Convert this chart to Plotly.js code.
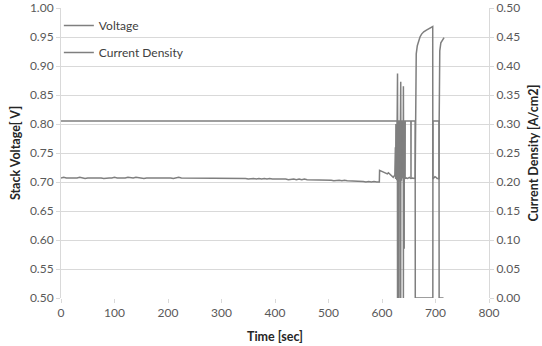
<!DOCTYPE html>
<html>
<head>
<meta charset="utf-8">
<script src="https://cdn.plot.ly/plotly-3.0.1.min.js"></script>
<style>html,body{margin:0;padding:0;background:#fff;}#chart{width:542px;height:346px;}</style>
</head>
<body>
<div id="chart"></div>
<script>
// Stack voltage, 0-595 s, sampled every 5 s
const voltEarlyStep = 5;
const voltEarly = [
  0.707,0.708,0.707,0.707,0.706,0.707,0.707,0.708,0.707,0.706,0.707,0.707,0.707,0.708,0.707,0.707,0.706,0.707,0.707,0.707,
  0.708,0.707,0.707,0.706,0.707,0.708,0.707,0.707,0.708,0.707,0.707,0.706,0.707,0.707,0.707,0.708,0.707,0.707,0.708,0.707,
  0.707,0.707,0.706,0.707,0.708,0.707,0.707,0.706,0.707,0.707,0.706,0.707,0.707,0.707,0.707,0.706,0.707,0.706,0.707,0.706,
  0.706,0.707,0.706,0.706,0.707,0.706,0.707,0.706,0.706,0.706,0.705,0.706,0.706,0.705,0.706,0.705,0.706,0.705,0.706,0.705,
  0.705,0.706,0.705,0.705,0.705,0.704,0.705,0.705,0.704,0.705,0.704,0.705,0.704,0.704,0.704,0.703,0.704,0.704,0.703,0.704,
  0.703,0.703,0.702,0.703,0.703,0.702,0.703,0.702,0.702,0.702,0.701,0.702,0.701,0.701,0.700,0.701,0.700,0.701,0.700,0.700
];
// Stack voltage, 595 s onward
const voltLateTime = [
  595.5,598,600,605,610,612,615,618,621,624,
  625,625.5,626,626.5,627,627.5,628,628.5,629,629.5,630,630.5,631,631.5,632,632.5,633,633.5,634,634.5,
  635,635.5,636,636.5,637,637.5,638,638.5,639,639.5,640,640.5,641,641.5,642,643,
  645,648,651,654,657,660,662,
  662.2,662.6,663,664,666,668,671,674,678,683,688,692,694.8,
  695,697,699,701,703,705,706.6,
  706.8,707.2,708,710,713,716
];
const voltLate = [
  0.720,0.719,0.718,0.716,0.714,0.716,0.713,0.711,0.708,0.712,
  0.760,0.705,0.800,0.708,0.790,0.703,0.805,0.710,0.887,0.705,0.795,0.712,0.802,0.700,0.785,0.708,0.805,0.706,0.790,0.710,
  0.873,0.705,0.800,0.702,0.795,0.710,0.805,0.706,0.790,0.712,0.865,0.706,0.800,0.705,0.708,0.706,
  0.707,0.706,0.708,0.706,0.707,0.706,0.707,
  0.780,0.860,0.900,0.921,0.935,0.943,0.950,0.955,0.959,0.962,0.964,0.966,0.968,
  0.705,0.707,0.709,0.708,0.706,0.706,0.705,
  0.800,0.897,0.926,0.940,0.946,0.949
];
// Current density [A/cm2]
const currTime = [
  0,50,100,150,200,250,300,350,400,450,500,550,600,624,
  628.8,629,629.2,631.6,631.8,632,634.8,635,635.2,639.8,640,640.2,641.3,641.5,641.7,
  643,643.2,643.4,654,654.2,654.4,662,662.2,695,695.2,706.6,706.8,715
];
const curr = [
  0.305,0.305,0.305,0.305,0.305,0.305,0.305,0.305,0.305,0.305,0.305,0.305,0.305,0.305,
  0.305,0.000,0.305,0.305,0.000,0.305,0.305,0.000,0.305,0.305,0.000,0.305,0.305,0.085,0.305,
  0.305,0.205,0.305,0.305,0.205,0.305,0.305,0.000,0.000,0.305,0.305,0.000,0.000
];
const xTicks = [0,100,200,300,400,500,600,700,800];
const voltTicks = [0.50,0.55,0.60,0.65,0.70,0.75,0.80,0.85,0.90,0.95,1.00];
const currTicks = [0.00,0.05,0.10,0.15,0.20,0.25,0.30,0.35,0.40,0.45,0.50];

const voltTime = voltEarly.map((_, i) => i * voltEarlyStep).concat(voltLateTime);
const voltAll = voltEarly.concat(voltLate);

const lineColor = '#7f7f7f';
const gridColor = '#d9d9d9';
const tickFont = {family: 'Lato, "Liberation Sans", sans-serif', size: 12, color: '#595959'};
const titleFont = {family: 'Lato, "Liberation Sans", sans-serif', size: 12.5, color: '#262626', weight: 'bold'};

const traces = [
  {x: voltTime, y: voltAll, type: 'scatter', mode: 'lines', name: 'Voltage',
   line: {color: lineColor, width: 1.5}, legendgroup: 'a'},
  {x: currTime, y: curr, type: 'scatter', mode: 'lines', name: 'Current Density', yaxis: 'y2',
   line: {color: lineColor, width: 1.5}, legendgroup: 'b'}
];

const layout = {
  width: 542, height: 346,
  margin: {l: 61, r: 53, t: 8, b: 48},
  paper_bgcolor: '#fff', plot_bgcolor: '#fff',
  showlegend: true,
  legend: {x: -0.005, y: 0.99, xanchor: 'left', yanchor: 'top', bgcolor: 'rgba(0,0,0,0)',
           font: {family: 'Lato, "Liberation Sans", sans-serif', size: 12, color: '#404040'},
           tracegroupgap: 8},
  xaxis: {range: [0, 800], tickvals: xTicks, ticktext: xTicks.map(String),
          showgrid: false, zeroline: false, showline: false,
          ticks: 'outside', ticklen: 4, tickcolor: gridColor, ticklabeloverflow: 'allow',
          tickfont: tickFont, title: {text: 'Time [sec]', font: titleFont, standoff: 12}},
  yaxis: {range: [0.5, 1.0], tickvals: voltTicks, ticktext: voltTicks.map(v => v.toFixed(2)),
          showgrid: true, gridcolor: gridColor, zeroline: false,
          showline: true, linecolor: gridColor, linewidth: 1,
          ticks: 'outside', ticklen: 4, tickcolor: gridColor, ticklabeloverflow: 'allow',
          tickfont: tickFont, title: {text: 'Stack Voltage[ V]', font: titleFont, standoff: 6}},
  yaxis2: {range: [0, 0.5], tickvals: currTicks, ticktext: currTicks.map(v => v.toFixed(2)),
           overlaying: 'y', side: 'right',
           showgrid: false, zeroline: false,
           showline: true, linecolor: gridColor, linewidth: 1,
           ticks: 'outside', ticklen: 4, tickcolor: gridColor, ticklabeloverflow: 'allow',
           tickfont: tickFont, title: {text: 'Current Density [A/cm2]', font: titleFont, standoff: 10}}
};

Plotly.newPlot('chart', traces, layout, {displayModeBar: false, staticPlot: true});
</script>
</body>
</html>
